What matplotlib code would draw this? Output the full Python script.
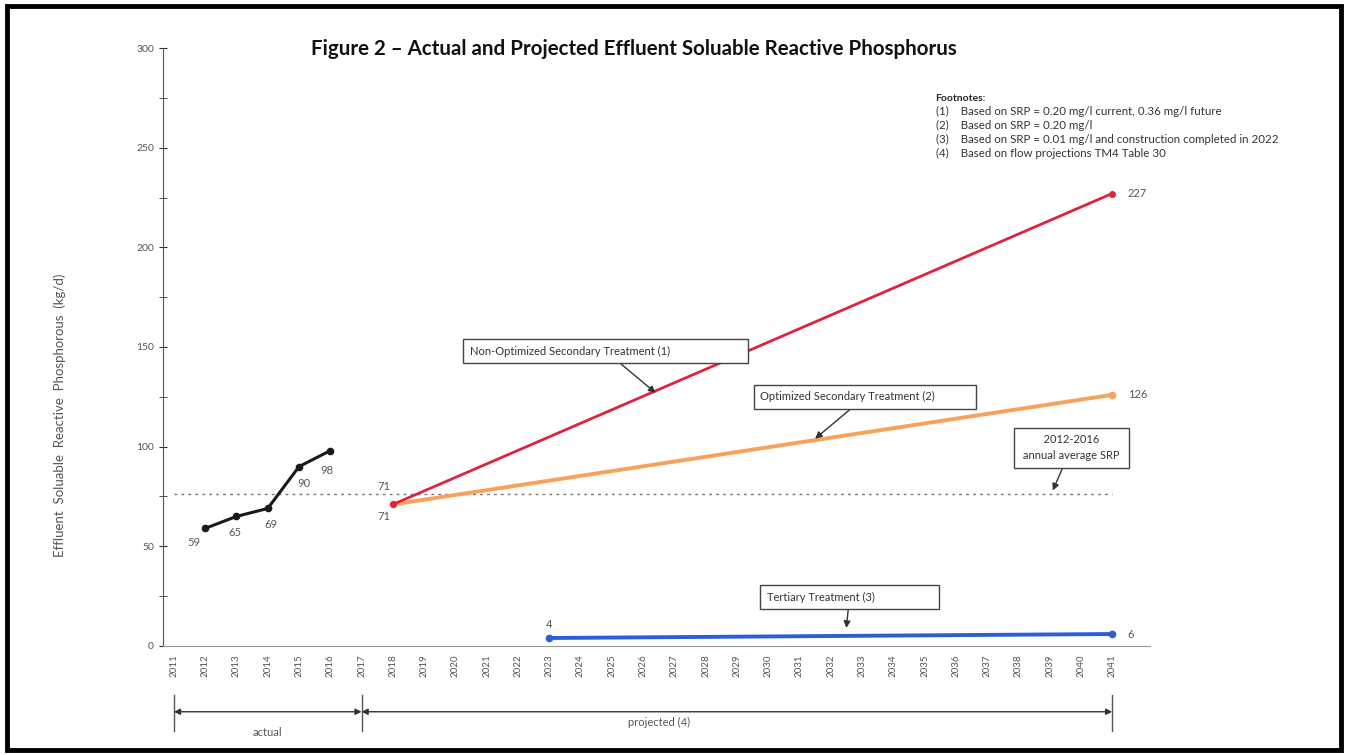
import matplotlib.pyplot as plt
from matplotlib.patches import Rectangle
from matplotlib.ticker import MultipleLocator

# data
years = list(range(2011, 2042))
actual_years = [2012, 2013, 2014, 2015, 2016]
actual_vals = [59, 65, 69, 90, 98]
proj_years = [2018, 2041]
nonopt_vals = [71, 227]
opt_vals = [71, 126]
tert_years = [2023, 2041]
tert_vals = [4, 6]
avg_srp = 76

footnotes = [
    "(1)    Based on SRP = 0.20 mg/l current, 0.36 mg/l future",
    "(2)    Based on SRP = 0.20 mg/l",
    "(3)    Based on SRP = 0.01 mg/l and construction completed in 2022",
    "(4)    Based on flow projections TM4 Table 30",
]

plt.rcParams['font.family'] = ['Lato', 'DejaVu Sans']
txt_col = '#555555'

fig = plt.figure(figsize=(13.48, 7.55), dpi=100)
ax = fig.add_axes([0.1209, 0.1444, 0.732, 0.792])

# frame around the whole picture
fig.patches.append(Rectangle((0.005, 0.007), 0.99, 0.985, transform=fig.transFigure,
                             fill=False, edgecolor='black', linewidth=3.5))

ax.set_xlim(2010.65, 2042.2)
ax.set_ylim(0, 300)

# average line
ax.plot([years[0], years[-1]], [avg_srp, avg_srp], color='#777777', lw=1,
        linestyle=(0, (2, 3)), zorder=1)

ax.plot(actual_years, actual_vals, color='#1a1a1a', lw=2.2, marker='o', ms=4.5, zorder=3)
ax.plot(proj_years, nonopt_vals, color='#dc2440', lw=2, marker='o', ms=4, zorder=3)
ax.plot(proj_years, opt_vals, color='#f7a25a', lw=2.8, marker='o', ms=4.5, zorder=2)
ax.plot(tert_years, tert_vals, color='#2a5fd8', lw=2.8, marker='o', ms=4.5, zorder=3)

lab = dict(fontsize=8, color=txt_col)
offs = [(-0.35, -7), (-0.05, -8), (0.1, -8), (0.15, -8.5), (-0.1, -10)]
for x, v, (dx, dy) in zip(actual_years, actual_vals, offs):
    ax.text(x + dx, v + dy, str(v), ha='center', va='center', **lab)
ax.text(proj_years[0] - 0.3, nonopt_vals[0] + 9, str(nonopt_vals[0]), ha='center', va='center', **lab)
ax.text(proj_years[0] - 0.3, opt_vals[0] - 6, str(opt_vals[0]), ha='center', va='center', **lab)
ax.text(proj_years[1] + 0.5, nonopt_vals[1], str(nonopt_vals[1]), ha='left', va='center', **lab)
ax.text(proj_years[1] + 0.5, opt_vals[1], str(opt_vals[1]), ha='left', va='center', **lab)
ax.text(tert_years[0], tert_vals[0] + 7, str(tert_vals[0]), ha='center', va='center', **lab)
ax.text(tert_years[1] + 0.5, tert_vals[1], str(tert_vals[1]), ha='left', va='center', **lab)

# call-out boxes
box = dict(boxstyle='square,pad=0.6', fc='white', ec='#444444', lw=1)
arw = dict(arrowstyle='-|>', color='#333333', lw=1, mutation_scale=10, shrinkA=0, shrinkB=0)
callouts = [
    ("Non-Optimized Secondary Treatment (1)                         ", (2026.4, 127), (2024.8, 148)),
    ("Optimized Secondary Treatment (2)            ", (2031.5, 104), (2033.1, 125)),
    ("   2012-2016   \n annual average SRP ", (2039.1, 78), (2039.7, 99.5)),
    ("Tertiary Treatment (3)                    ", (2032.5, 9), (2032.6, 24.5)),
]
for text, tip, pos in callouts:
    ax.annotate(text, xy=tip, xytext=pos, ha='center', va='center', fontsize=8,
                color='#333333', bbox=box, arrowprops=arw, linespacing=1.5)

# axes styling
for s in ['top', 'right']:
    ax.spines[s].set_visible(False)
ax.spines['left'].set_color('#555555')
ax.spines['bottom'].set_color('#999999')
ax.yaxis.set_major_locator(MultipleLocator(50))
ax.yaxis.set_minor_locator(MultipleLocator(25))
ax.tick_params(axis='y', which='both', direction='inout', length=6, color='#333333',
               labelsize=7.5, labelcolor=txt_col)
ax.set_xticks(years)
ax.set_xticklabels([str(y) for y in years], rotation=90)
ax.tick_params(axis='x', length=0, labelsize=7, labelcolor=txt_col, pad=6)

fig.text(0.044, 0.45, "Effluent  Soluable  Reactive  Phosphorous  (kg/d)", rotation=90,
         ha='center', va='center', fontsize=9.5, color=txt_col)

fig.text(0.47, 0.935, "Figure 2 \u2013 Actual and Projected Effluent Soluable Reactive Phosphorus",
         ha='center', va='center', fontsize=14.8, fontweight='bold', color='#111111')

fig.text(0.694, 0.87, "Footnotes:", fontsize=7.5, fontweight='bold', color='#222222', va='center')
for i, f in enumerate(footnotes):
    fig.text(0.694, 0.852 - i * 0.0185, f, fontsize=8.3, color='#333333', va='center')

# actual / projected brackets under the axis
tr = ax.get_xaxis_transform()
for x in [2011, 2017, 2041]:
    ax.plot([x, x], [-0.082, -0.142], transform=tr, color='#555555', lw=1, clip_on=False)
brk = dict(arrowstyle='<|-|>', color='#333333', lw=1, mutation_scale=9, shrinkA=0, shrinkB=0)
ax.annotate('', xy=(2011, -0.11), xytext=(2017, -0.11), xycoords=tr, textcoords=tr, arrowprops=brk)
ax.annotate('', xy=(2017, -0.11), xytext=(2041, -0.11), xycoords=tr, textcoords=tr, arrowprops=brk)
ax.text(2014, -0.145, "actual", transform=tr, ha='center', va='center', fontsize=8, color=txt_col)
ax.text(2026.5, -0.128, "projected (4)", transform=tr, ha='center', va='center', fontsize=8, color=txt_col)

fig.savefig('out.png', dpi=100)
